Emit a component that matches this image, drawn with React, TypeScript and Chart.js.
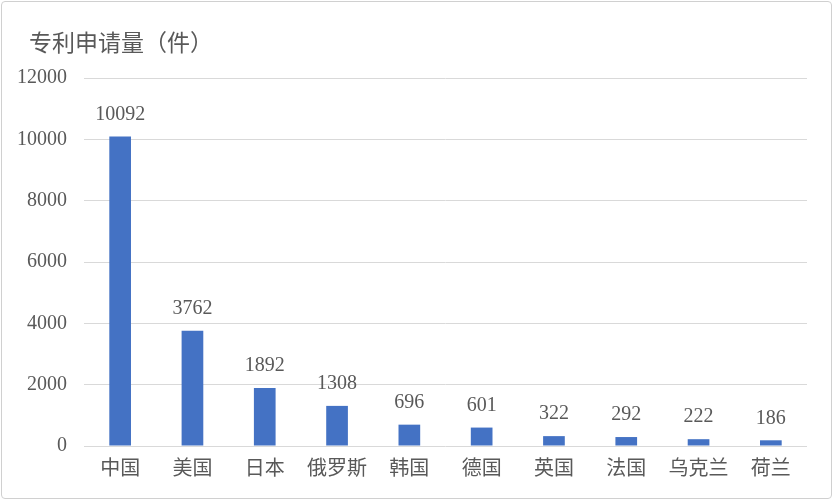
import React, { useEffect, useRef } from "react";
import { Chart, registerables } from "chart.js";

Chart.register(...registerables);

const categories = ["中国", "美国", "日本", "俄罗斯", "韩国", "德国", "英国", "法国", "乌克兰", "荷兰"];
const applications = [10092, 3762, 1892, 1308, 696, 601, 322, 292, 222, 186];
const yTicks = [0, 2000, 4000, 6000, 8000, 10000, 12000];
const chartTitle = "专利申请量（件）";

const TEXT = "#595959";
const BAR = "#4472C4";
const GRID = "#d9d9d9";
const SERIF = "'Liberation Serif', 'DejaVu Serif', serif";
const CJK = "'Noto Sans CJK SC', 'Noto Sans', sans-serif";

const labelPlugin = {
  id: "barLabels",
  afterDatasetsDraw(chart: any) {
    const ctx = chart.ctx;
    const meta = chart.getDatasetMeta(0);
    ctx.save();
    ctx.fillStyle = TEXT;
    ctx.font = `20px ${SERIF}`;
    ctx.textAlign = "center";
    ctx.textBaseline = "middle";
    meta.data.forEach((bar: any, i: number) => {
      ctx.fillText(String(applications[i]), bar.x, bar.y - 22);
    });
    ctx.restore();
  },
};

const titlePlugin = {
  id: "customTitle",
  afterDraw(chart: any) {
    const ctx = chart.ctx;
    ctx.save();
    ctx.fillStyle = TEXT;
    ctx.font = `23px ${CJK}`;
    ctx.textAlign = "left";
    ctx.textBaseline = "middle";
    ctx.fillText(chartTitle, 29, 42);
    ctx.restore();
  },
};

export default function App() {
  const ref = useRef<HTMLCanvasElement>(null);
  useEffect(() => {
    document.body.style.margin = "0";
    const chart = new Chart(ref.current as HTMLCanvasElement, {
      type: "bar",
      data: {
        labels: categories,
        datasets: [
          {
            data: applications,
            backgroundColor: BAR,
            barPercentage: 0.3,
            categoryPercentage: 1,
          },
        ],
      },
      options: {
        animation: false,
        responsive: false,
        maintainAspectRatio: false,
        layout: { padding: { top: 78, right: 26, left: 0, bottom: 0 } },
        plugins: { legend: { display: false }, tooltip: { enabled: false }, title: { display: false } },
        scales: {
          x: {
            grid: { display: false, drawTicks: false },
            border: { display: false },
            ticks: { color: TEXT, font: { family: CJK, size: 20 }, padding: 9, maxRotation: 0, autoSkip: false },
            afterFit: (s: any) => {
              s.height = 54;
            },
          },
          y: {
            min: 0,
            max: 12000,
            afterBuildTicks: (s: any) => {
              s.ticks = yTicks.map((v) => ({ value: v }));
            },
            grid: { color: GRID, lineWidth: 1, drawTicks: false },
            border: { display: false },
            ticks: {
              color: TEXT,
              font: { family: SERIF, size: 20 },
              padding: 17,
              callback: (v: any) => String(v),
            },
            afterFit: (s: any) => {
              s.width = 84;
            },
          },
        },
      },
      plugins: [labelPlugin, titlePlugin],
    });
    return () => chart.destroy();
  }, []);
  return (
    <div style={{ position: "relative", width: 833, height: 500, background: "#fff" }}>
      <canvas ref={ref} width={833} height={500} style={{ position: "absolute", left: 0, top: 0 }} />
      <div
        style={{
          position: "absolute",
          left: 1,
          top: 1,
          width: 829,
          height: 496,
          border: "1px solid #d0d0d0",
          borderRadius: 4,
          pointerEvents: "none",
        }}
      />
    </div>
  );
}
